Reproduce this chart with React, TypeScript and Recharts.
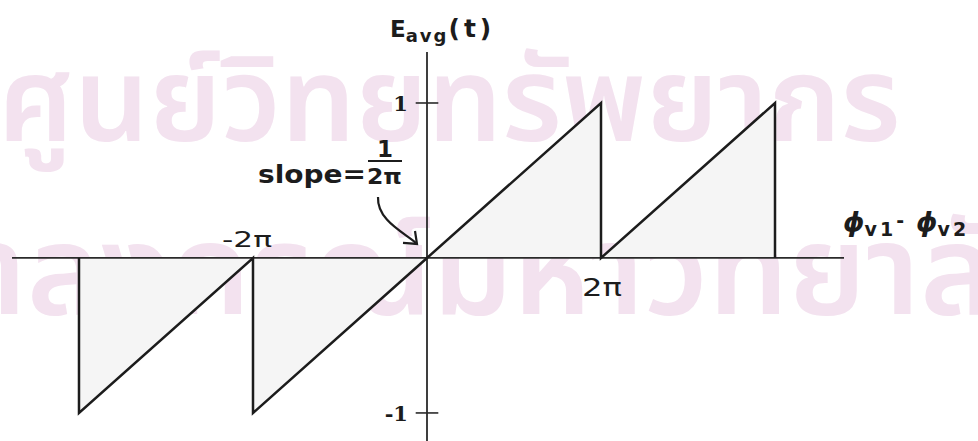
import { ComposedChart, Area, Line, XAxis, YAxis, ReferenceLine, ReferenceDot } from "recharts"

// sawtooth corners; phase is in multiples of π
const phase = [-4, -4, -2, -2, 0, 2, 2, 4, 4]
const eavg = [0, -1, 0, -1, 0, 1, 0, 1, 0]

const yTicks = [1, -1]
const yTickLabels = ["1", "-1"]
const xTicks = [-2, 2]
const xTickLabels = ["-2π", "2π"]

const xDomain = [-4.77, 4.793]
const yDomain = [-1.181, 1.329]

const data = phase.map((p, i) => ({ phase: p, eavg: eavg[i] }))

const ink = "#1c1c1c"
const sans = "DejaVu Sans, sans-serif"
const serif = "DejaVu Serif, serif"

const stamp = {
  position: "absolute" as const,
  fontFamily: "Noto Sans Thai, Noto Sans, sans-serif",
  fontWeight: 600,
  color: "#f3e2ef",
  whiteSpace: "nowrap" as const,
  lineHeight: 1,
}

// puts free text at a data point; draw gets the pixel position of that point
function at(x: number, y: number, key: string, draw: (cx: number, cy: number) => any) {
  return (
    <ReferenceDot
      key={key}
      x={x}
      y={y}
      r={0}
      fill="none"
      stroke="none"
      ifOverflow="visible"
      label={{
        content: (p: any) => {
          const vb = p.viewBox ?? {}
          return draw((vb.x ?? 0) + (vb.width ?? 0) / 2, (vb.y ?? 0) + (vb.height ?? 0) / 2)
        },
      }}
    />
  )
}

export default function App() {
  return (
    <div style={{ position: "absolute", left: 0, top: 0, width: 978, height: 441, background: "#fff", overflow: "hidden" }}>
      <div style={{ ...stamp, fontSize: 118, left: -2, top: 46 }}>ศูนย์วิทยทรัพยากร</div>
      <div style={{ ...stamp, fontSize: 127, left: -185, top: 212 }}>จุฬาลงกรณ์มหาวิทยาลัย</div>
      <ComposedChart
        width={978}
        height={441}
        data={data}
        margin={{ top: 52, right: 134, left: 12, bottom: 0 }}
        style={{ position: "absolute", left: 0, top: 0 }}
      >
        <XAxis dataKey="phase" type="number" domain={xDomain} allowDataOverflow hide />
        <YAxis type="number" domain={yDomain} allowDataOverflow hide />

        <Area
          dataKey="eavg"
          type="linear"
          baseValue={0}
          fill="#f5f5f5"
          fillOpacity={1}
          stroke="none"
          isAnimationActive={false}
        />

        <ReferenceLine y={0} stroke="#2a2a2a" strokeWidth={1.8} />
        <ReferenceLine x={0} stroke="#2a2a2a" strokeWidth={1.8} />

        {yTicks.map((v) => (
          <ReferenceLine
            key={`tick${v}`}
            segment={[
              { x: -0.13, y: v },
              { x: 0.13, y: v },
            ]}
            stroke="#2a2a2a"
            strokeWidth={1.6}
          />
        ))}

        <Line
          dataKey="eavg"
          type="linear"
          stroke={ink}
          strokeWidth={2.5}
          dot={false}
          isAnimationActive={false}
        />

        {yTicks.map((v, i) =>
          at(0, v, `ylab${v}`, (cx, cy) => (
            <text x={cx - 19} y={cy + 8} textAnchor="end" fontFamily={serif} fontWeight="bold" fontSize={21} fill={ink}>
              {yTickLabels[i]}
            </text>
          ))
        )}

        {at(xTicks[0], 0, "xlab0", (cx, cy) => (
          <text x={cx - 6} y={cy - 11} textAnchor="middle" fontFamily={sans} fontSize={22} fill={ink} textLength={50} lengthAdjust="spacingAndGlyphs">
            {xTickLabels[0]}
          </text>
        ))}
        {at(xTicks[1], 0, "xlab1", (cx, cy) => (
          <text x={cx + 1} y={cy + 38} textAnchor="middle" fontFamily={sans} fontSize={24} fill={ink} textLength={40} lengthAdjust="spacingAndGlyphs">
            {xTickLabels[1]}
          </text>
        ))}

        {/* vertical axis title */}
        {at(0, yDomain[1], "ytitle", (cx, cy) => (
          <text x={cx - 37} y={cy - 15} fontFamily={sans} fill={ink} fontWeight="bold">
            <tspan fontSize={23}>E</tspan>
            <tspan fontSize={18} dy={5} letterSpacing={2}>avg</tspan>
            <tspan fontSize={25} dy={-5} letterSpacing={4}>(t)</tspan>
          </text>
        ))}

        {/* horizontal axis title */}
        {at(xDomain[1], 0, "xtitle", (cx, cy) => (
          <text x={cx - 1} y={cy - 27} fontFamily={sans} fill={ink} fontWeight="bold">
            <tspan fontSize={27} fontStyle="italic">ϕ</tspan>
            <tspan fontSize={19} dy={5} letterSpacing={3}>v1</tspan>
            <tspan fontSize={19} dy={-9}>-</tspan>
            <tspan fontSize={27} dy={4} dx={12} fontStyle="italic">ϕ</tspan>
            <tspan fontSize={19} dy={5} letterSpacing={3}>v2</tspan>
          </text>
        ))}

        {/* slope note with arrow into the origin */}
        {at(0, 0, "slope", (cx, cy) => (
          <g fill={ink}>
            <text x={cx - 169} y={cy - 75} fontFamily={sans} fontWeight="bold" fontSize={24} textLength={108} lengthAdjust="spacingAndGlyphs">
              slope=
            </text>
            <text x={cx - 42} y={cy - 101} textAnchor="middle" fontFamily={sans} fontWeight="bold" fontSize={23}>
              1
            </text>
            <line x1={cx - 59} x2={cx - 25} y1={cy - 97} y2={cy - 97} stroke={ink} strokeWidth={2} />
            <text x={cx - 60} y={cy - 74} fontFamily={sans} fontWeight="bold" fontSize={22} textLength={35} lengthAdjust="spacingAndGlyphs">
              2π
            </text>
            <path
              d={`M${cx - 49},${cy - 61} C${cx - 50},${cy - 38} ${cx - 24},${cy - 26} ${cx - 11},${cy - 15}`}
              fill="none"
              stroke={ink}
              strokeWidth={2.2}
            />
            <path
              d={`M${cx - 12},${cy - 27} L${cx - 10},${cy - 14} L${cx - 24},${cy - 15}`}
              fill="none"
              stroke={ink}
              strokeWidth={2.2}
            />
          </g>
        ))}
      </ComposedChart>
    </div>
  )
}
